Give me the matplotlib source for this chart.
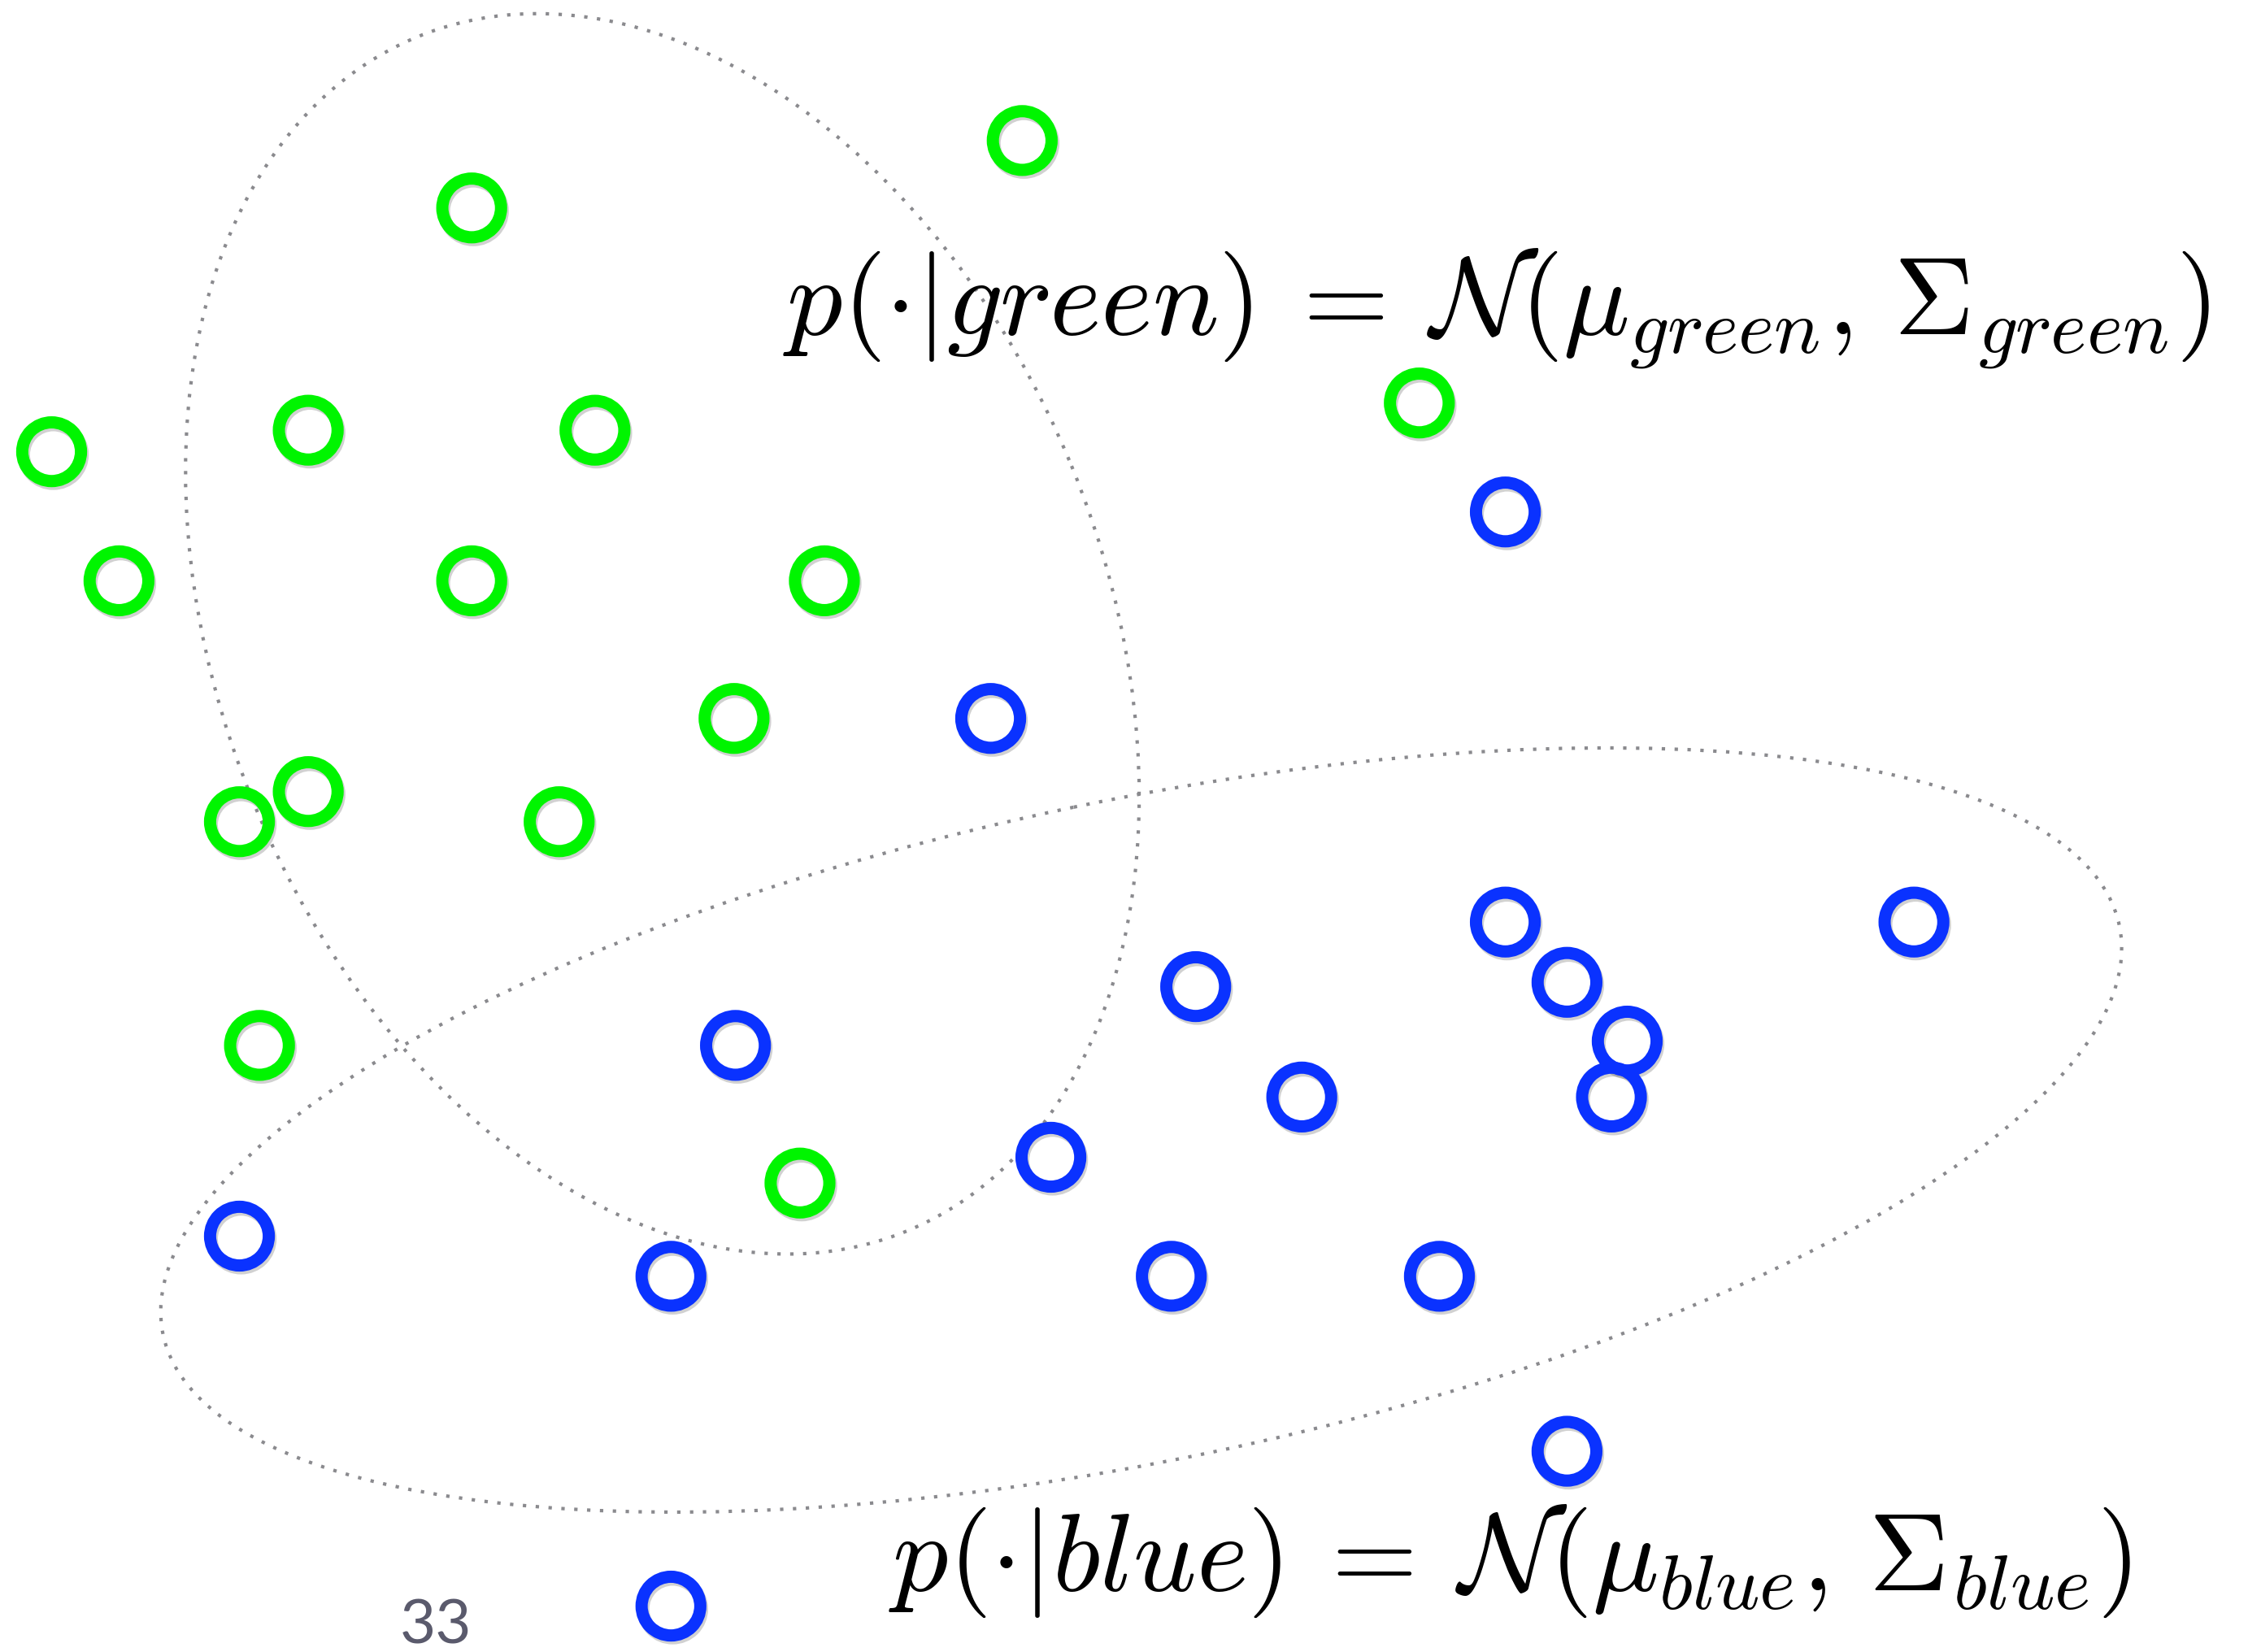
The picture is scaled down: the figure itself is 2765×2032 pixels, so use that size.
import matplotlib
matplotlib.use("Agg")
import matplotlib.pyplot as plt
from matplotlib.patches import Ellipse
import matplotlib.patheffects as pe

# Point positions (in slide pixel units, 1568 x 1152, y downward)
green_x = [713, 329, 990, 36, 215, 415, 83, 329, 575, 512, 215, 167, 390, 181, 558]
green_y = [98, 145, 281, 315, 300, 300, 405, 405, 405, 501, 552, 573, 573, 729, 825]

blue_x = [1050, 691, 1050, 1335, 834, 1093, 1135, 513, 908, 1124, 733, 167, 468, 817, 1004, 1093, 468]
blue_y = [357, 501, 643, 643, 688, 685, 726, 729, 765, 765, 807, 862, 890, 890, 890, 1012, 1120]

# Covariance ellipses: center x, center y, width, height, angle
green_ell = (462, 442, 900, 617, 67.7)
blue_ell = (796, 788, 1394, 460, -11.8)

green_label = r'$p(\cdot|green)\:=\:\mathcal{N}(\mu_{green},\,\Sigma_{green})$'
blue_label = r'$p(\cdot|blue)\:=\:\mathcal{N}(\mu_{blue},\,\Sigma_{blue})$'
page_label = "33"

plt.rcParams['mathtext.fontset'] = 'cm'

fig = plt.figure(figsize=(27.65, 20.32), dpi=100)
ax = fig.add_axes([0, 0, 1, 1])
ax.set_xlim(0, 1568)
ax.set_ylim(1152, 0)
ax.axis('off')

for (cx, cy, w, h, ang) in [green_ell, blue_ell]:
    e = Ellipse((cx, cy), w, h, angle=ang, fill=False, edgecolor='#8a8a8e',
                linewidth=3, linestyle=(0, (1, 2.8)), zorder=1)
    ax.add_patch(e)

shadow = [pe.SimpleLineShadow(offset=(1.5, -2.5), shadow_color='black', alpha=0.18),
          pe.Normal()]
ax.plot(green_x, green_y, linestyle='none', marker='o', markersize=52,
        markerfacecolor='none', markeredgecolor='#00f500', markeredgewidth=10.8,
        path_effects=shadow, zorder=3)
ax.plot(blue_x, blue_y, linestyle='none', marker='o', markersize=52,
        markerfacecolor='none', markeredgecolor='#0a32ff', markeredgewidth=10.8,
        path_effects=shadow, zorder=3)

ax.text(546, 233, green_label, fontsize=98, color='black', ha='left',
        va='baseline', zorder=5)
ax.text(620, 1109, blue_label, fontsize=98, color='black', ha='left',
        va='baseline', zorder=5)

ax.text(279, 1146, page_label, fontsize=55, color='#5a5a6c', ha='left',
        va='baseline', family='Lato', fontweight='normal', zorder=5)

fig.savefig('out.png', dpi=100)
